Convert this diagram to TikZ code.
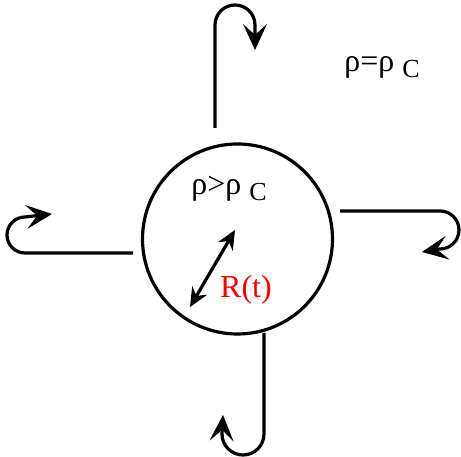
\documentclass[tikz,border=0pt]{standalone}
\usepackage{fontspec}
\setmainfont{Liberation Serif}
\usetikzlibrary{arrows.meta}
\begin{document}
\begin{tikzpicture}[x=1pt,y=1pt,
  flow/.style={line width=3.2pt,-{Stealth[length=26pt,width=24pt,inset=11pt,line width=1pt]}},
  ball/.style={circle,draw,line width=3.2pt,minimum size=190pt,inner sep=0pt},
  lbl/.style={inner sep=0pt,font=\fontsize{32}{32}\selectfont}]
\useasboundingbox (0,0) rectangle (461,457);
\node[ball] (ball) at (237.5,218) {};
% radius
\coordinate (rin) at (235,227);
\coordinate (rout) at (190,150);
\draw[line width=3.2pt,{Stealth[length=19pt,width=17pt]}-{Stealth[length=19pt,width=17pt]}] (rout) -- (rin);
% labels
\node[lbl] (inside) at (229,268) {ρ>ρ \raisebox{-6pt}{\fontsize{26}{26}\selectfont C}};
\node[lbl,text=red] (rt) at (246,167) {R(t)};
\node[lbl] (outside) at (382,390) {ρ=ρ \raisebox{-6pt}{\fontsize{26}{26}\selectfont C}};
% top hook
\coordinate (t0) at (215,329);
\coordinate (t1) at (215,432);
\coordinate (t2) at (255,407);
\draw[flow] (t0) -- (t1) arc[start angle=180,end angle=0,radius=20] -- (t2);
% left hook
\coordinate (l0) at (133,204);
\coordinate (l1) at (25,204);
\coordinate (l2) at (52,243);
\draw[flow] (l0) -- (l1) arc[start angle=270,end angle=90,radius=18] -- (l2);
% right hook
\coordinate (r0) at (340,246);
\coordinate (r1) at (440,246);
\coordinate (r2) at (422,205);
\draw[flow] (r0) -- (r1) arc[start angle=90,end angle=-90,radius=19] -- (r2);
% bottom hook
\coordinate (b0) at (264,124);
\coordinate (b1) at (264,23);
\coordinate (b2) at (223,42);
\draw[flow] (b0) -- (b1) arc[start angle=0,end angle=-180,radius=21] -- (b2);
\end{tikzpicture}
\end{document}
